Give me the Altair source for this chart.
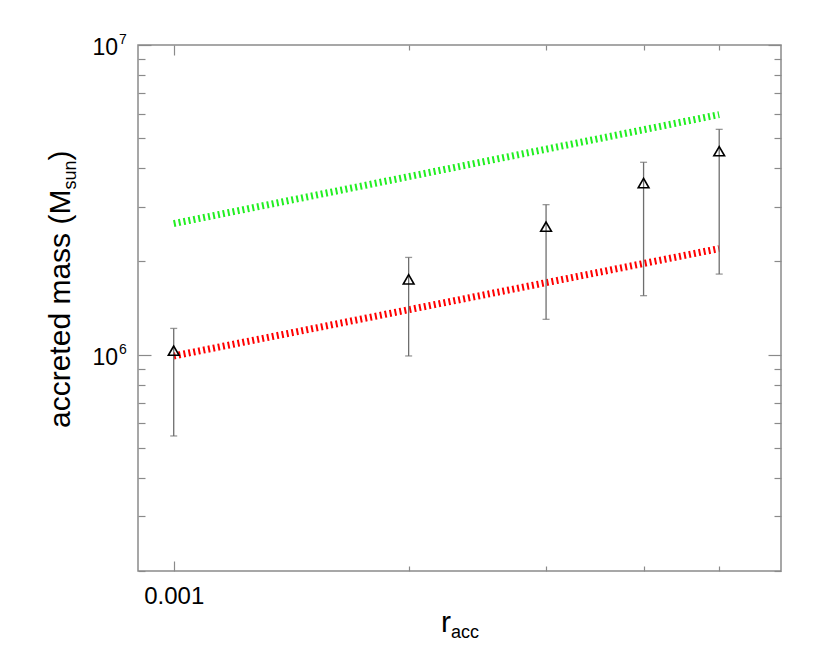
import altair as alt
import pandas as pd

# ---- data ----
r_acc = [0.001, 0.002, 0.003, 0.004, 0.005]
mass = [1.03e6, 1.75e6, 2.59e6, 3.58e6, 4.54e6]
mass_lo = [5.46e5, 0.99e6, 1.30e6, 1.55e6, 1.82e6]
mass_hi = [1.215e6, 2.06e6, 3.05e6, 4.18e6, 5.34e6]

fit_r = [0.001, 0.005]
fit_green = [2.65e6, 5.96e6]
fit_red = [0.99e6, 2.20e6]

x_domain = [0.0009, 0.006]
y_domain = [2e5, 1e7]
x_major = [0.001]
x_minor = [0.002, 0.003, 0.004, 0.005]
y_major = [1e6, 1e7]
y_major_base = ["10", "10"]
y_major_exp = ["6", "7"]
y_minor = [2e5, 3e5, 4e5, 5e5, 6e5, 7e5, 8e5, 9e5,
           2e6, 3e6, 4e6, 5e6, 6e6, 7e6, 8e6, 9e6]

FONT = "Liberation Sans"
GRAY = "#8a8a8a"
BAR = "#6e6e6e"

pts = pd.DataFrame({"r": r_acc, "m": mass, "lo": mass_lo, "hi": mass_hi})
green_df = pd.DataFrame({"r": fit_r, "m": fit_green})
red_df = pd.DataFrame({"r": fit_r, "m": fit_red})
ylab_df = pd.DataFrame({"v": y_major, "b": y_major_base, "e": y_major_exp})

xs = alt.Scale(type="log", domain=x_domain, nice=False)
ys = alt.Scale(type="log", domain=y_domain, nice=False)


def ax(orient, values, size, labels=False, **kw):
    return alt.Axis(orient=orient, values=values, tickSize=size, offset=-size,
                    domain=False, grid=False, labels=labels, title=None,
                    tickColor=GRAY, tickWidth=1.2, labelFont=FONT,
                    labelColor="black", **kw)


# error bars (bottom major x axis with label, left major y ticks)
bars = alt.Chart(pts).mark_rule(color=BAR, strokeWidth=1.3).encode(
    x=alt.X("r:Q", scale=xs,
            axis=ax("bottom", x_major, 10, labels=True, labelFontSize=24,
                    labelPadding=13, format=".3f")),
    y=alt.Y("lo:Q", scale=ys, axis=ax("left", y_major, 13)),
    y2="hi:Q",
)

# caps (bottom minor x ticks, left minor y ticks)
caps = alt.Chart(pts).transform_fold(["lo", "hi"], as_=["k", "v"]).mark_tick(
    orient="horizontal", size=7, thickness=1.3, color=BAR
).encode(
    x=alt.X("r:Q", scale=xs, axis=ax("bottom", x_minor, 5)),
    y=alt.Y("v:Q", scale=ys, axis=ax("left", y_minor, 7)),
)

# fit lines (top and right axes)
green = alt.Chart(green_df).mark_line(
    color="#22ee22", strokeWidth=7, strokeDash=[2, 3]
).encode(
    x=alt.X("r:Q", scale=xs, axis=ax("top", x_major, 10)),
    y=alt.Y("m:Q", scale=ys, axis=ax("right", y_major, 13)),
)
red = alt.Chart(red_df).mark_line(
    color="#ff0000", strokeWidth=7, strokeDash=[2, 3]
).encode(
    x=alt.X("r:Q", scale=xs, axis=ax("top", x_minor, 5)),
    y=alt.Y("m:Q", scale=ys, axis=ax("right", y_minor, 7)),
)

points = alt.Chart(pts).mark_point(
    shape="triangle-up", filled=False, color="black", strokeWidth=1.6,
    size=115, opacity=1
).encode(
    x=alt.X("r:Q", scale=xs, axis=None),
    y=alt.Y("m:Q", scale=ys, axis=None),
)

# y tick labels 10^n with real superscripts
ylab_base = alt.Chart(ylab_df).mark_text(
    font=FONT, fontSize=23, align="right", baseline="alphabetic", dy=10,
    color="black"
).encode(y=alt.Y("v:Q", scale=ys, axis=None), x=alt.value(-20), text="b:N")
ylab_exp = alt.Chart(ylab_df).mark_text(
    font=FONT, fontSize=14, align="left", baseline="alphabetic", dy=-1,
    color="black"
).encode(y=alt.Y("v:Q", scale=ys, axis=None), x=alt.value(-19), text="e:N")


# axis titles with subscripts
def txt(text, x, y, size, angle=0):
    return alt.Chart(pd.DataFrame({"t": [text]})).mark_text(
        font=FONT, fontSize=size, align="left", baseline="alphabetic",
        angle=angle, color="black"
    ).encode(text="t:N", x=alt.value(x), y=alt.value(y))


W1 = 7.946 * 30
W2 = 1.612 * 18
ytitle = (txt("accreted mass (M", -68, 383, 30, 270)
          + txt("sun", -62, 383 - W1, 18, 270)
          + txt(")", -68, 383 - W1 - W2, 30, 270))
xtitle = txt("r", 303, 587, 30) + txt("acc", 313, 593, 18)

chart = alt.layer(green, red, bars, caps, points, ylab_base, ylab_exp,
                  ytitle, xtitle).resolve_axis(
    x="independent", y="independent"
).properties(
    width=643, height=526,
    autosize=alt.AutoSizeParams(type="none"),
    padding={"left": 130, "top": 37, "right": 30, "bottom": 75},
    background="white",
).configure_view(stroke=GRAY, strokeWidth=1.5)

chart.save("out.html", embed_options={"renderer": "svg", "actions": False})
